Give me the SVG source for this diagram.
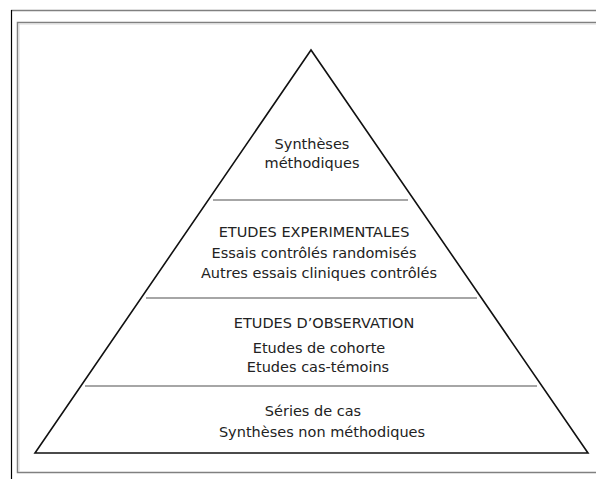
<svg xmlns="http://www.w3.org/2000/svg" width="596" height="479" viewBox="0 0 596 479">
<style>
text{font-family:"DejaVu Sans",Verdana,sans-serif;font-size:14.5px;fill:#222;text-anchor:middle}
.div{stroke:#888;stroke-width:1.5;fill:none}
.frame{stroke:#808080;stroke-width:1.5;fill:none}
</style>
<rect width="596" height="479" fill="#fff"/>
<g id="frame">
<line x1="11" y1="10.5" x2="596" y2="10.5" class="frame"/>
<line x1="11.5" y1="10" x2="11.5" y2="479" stroke="#000" stroke-width="1.2"/>
<polyline points="596,22.5 17.5,22.5 17.5,472.5 596,472.5" class="frame"/>
<polyline points="596,24 19,24 19,471" stroke="#d8d8d8" stroke-width="1" fill="none"/>
</g>
<g id="pyramid">
<polygon points="311,50 35,453 588,453" fill="none" stroke="#111" stroke-width="1.6" stroke-linejoin="miter"/>
</g>
<g id="dividers">
<line x1="213" y1="200" x2="408" y2="200" class="div"/>
<line x1="146" y1="298" x2="477" y2="298" class="div"/>
<line x1="85" y1="386" x2="537" y2="386" class="div"/>
</g>
<g id="level1">
<text x="312" y="149">Synthèses</text>
<text x="312" y="168">méthodiques</text>
</g>
<g id="level2">
<text x="314" y="237">ETUDES EXPERIMENTALES</text>
<text x="314" y="258">Essais contrôlés randomisés</text>
<text x="319" y="278">Autres essais cliniques contrôlés</text>
</g>
<g id="level3">
<text x="324" y="328">ETUDES D’OBSERVATION</text>
<text x="319" y="353">Etudes de cohorte</text>
<text x="318" y="372">Etudes cas-témoins</text>
</g>
<g id="level4">
<text x="313" y="416">Séries de cas</text>
<text x="322" y="437">Synthèses non méthodiques</text>
</g>
</svg>
